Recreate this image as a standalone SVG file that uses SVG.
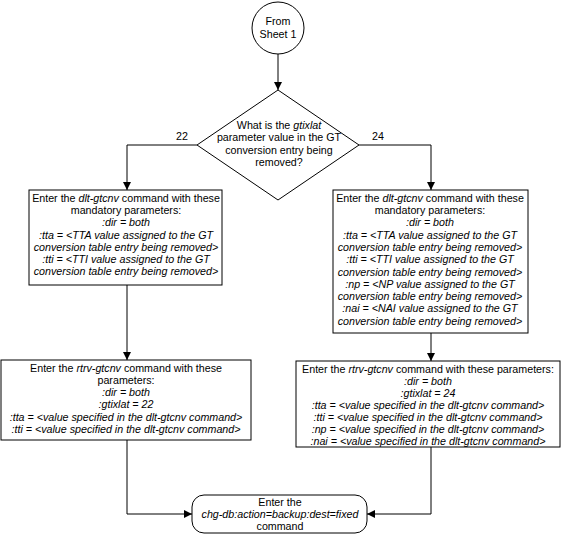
<svg xmlns="http://www.w3.org/2000/svg" width="565" height="538" viewBox="0 0 565 538">
<defs>
<marker id="arr" viewBox="0 0 10 10" refX="10" refY="5" markerWidth="8" markerHeight="8" markerUnits="userSpaceOnUse" orient="auto">
<path d="M0,0 L10,5 L0,10 z" fill="#000"/>
</marker>
</defs>
<style>
.s{fill:#fff;stroke:#000;stroke-width:1}
.c{fill:none;stroke:#000;stroke-width:1;marker-end:url(#arr)}
text{font-family:"Liberation Sans",Arial,sans-serif;font-size:10.7px;fill:#000;text-anchor:middle}
.i{font-style:italic}
</style>
<rect width="565" height="538" fill="#fff"/>
<g id="connectors">
<line class="c" x1="278" y1="54" x2="278" y2="90"/>
<polyline class="c" points="197,145 127,145 127,190"/>
<polyline class="c" points="359,145 431,145 431,190"/>
<line class="c" x1="127" y1="285" x2="127" y2="360"/>
<line class="c" x1="431" y1="333" x2="431" y2="361"/>
<polyline class="c" points="127,440 127,514 192,514"/>
<polyline class="c" points="431,447 431,514 367,514"/>
<text x="182" y="140">22</text>
<text x="378" y="140">24</text>
</g>
<g id="start">
<circle class="s" cx="278" cy="28" r="26"/>
<text x="278" y="25">From</text>
<text x="278" y="38">Sheet  1</text>
</g>
<g id="decision">
<polygon class="s" points="278,90 359,145 278,200 197,145"/>
<text x="279" y="129">What is the <tspan class="i">gtixlat</tspan></text>
<text x="279" y="141">parameter value in the GT</text>
<text x="279" y="154">conversion entry being</text>
<text x="279" y="166">removed?</text>
</g>
<g id="dlt22">
<rect class="s" x="29" y="190" width="193" height="95"/>
<text x="126" y="202">Enter the <tspan class="i">dlt-gtcnv</tspan> command with these</text>
<text x="126" y="214">mandatory parameters:</text>
<text class="i" x="126" y="226">:dir = both</text>
<text class="i" x="126" y="239">:tta = &lt;TTA value assigned to the GT</text>
<text class="i" x="126" y="251">conversion table entry being removed&gt;</text>
<text class="i" x="126" y="263">:tti = &lt;TTI value assigned to the GT</text>
<text class="i" x="126" y="275">conversion table entry being removed&gt;</text>
</g>
<g id="dlt24">
<rect class="s" x="333" y="190" width="195" height="143"/>
<text x="430" y="202">Enter the <tspan class="i">dlt-gtcnv</tspan> command with these</text>
<text x="430" y="214">mandatory parameters:</text>
<text class="i" x="430" y="226">:dir = both</text>
<text class="i" x="430" y="239">:tta = &lt;TTA value assigned to the GT</text>
<text class="i" x="430" y="251">conversion table entry being removed&gt;</text>
<text class="i" x="430" y="263">:tti = &lt;TTI value assigned to the GT</text>
<text class="i" x="430" y="276">conversion table entry being removed&gt;</text>
<text class="i" x="430" y="288">:np = &lt;NP value assigned to the GT</text>
<text class="i" x="430" y="300">conversion table entry being removed&gt;</text>
<text class="i" x="430" y="312">:nai = &lt;NAI value assigned to the GT</text>
<text class="i" x="430" y="325">conversion table entry being removed&gt;</text>
</g>
<g id="rtrv22">
<rect class="s" x="1" y="360" width="250" height="80"/>
<text x="126" y="372">Enter the <tspan class="i">rtrv-gtcnv</tspan> command with these</text>
<text x="126" y="384">parameters:</text>
<text class="i" x="126" y="396">:dir = both</text>
<text class="i" x="126" y="408">:gtixlat = 22</text>
<text class="i" x="126" y="421">:tta = &lt;value specified in the dlt-gtcnv command&gt;</text>
<text class="i" x="126" y="433">:tti = &lt;value specified in the dlt-gtcnv command&gt;</text>
</g>
<g id="rtrv24">
<rect class="s" x="296" y="361" width="264" height="86"/>
<text x="428" y="373">Enter the <tspan class="i">rtrv-gtcnv</tspan> command with these parameters:</text>
<text class="i" x="428" y="385">:dir = both</text>
<text class="i" x="428" y="397">:gtixlat = 24</text>
<text class="i" x="428" y="409">:tta = &lt;value specified in the dlt-gtcnv command&gt;</text>
<text class="i" x="428" y="421">:tti = &lt;value specified in the dlt-gtcnv command&gt;</text>
<text class="i" x="428" y="433">:np = &lt;value specified in the dlt-gtcnv command&gt;</text>
<text class="i" x="428" y="445">:nai = &lt;value specified in the dlt-gtcnv command&gt;</text>
</g>
<g id="chgdb">
<rect class="s" x="192" y="495" width="175" height="38" rx="12" ry="12"/>
<text x="280" y="506">Enter the</text>
<text class="i" x="280" y="518">chg-db:action=backup:dest=fixed</text>
<text x="280" y="530">command</text>
</g>
</svg>
